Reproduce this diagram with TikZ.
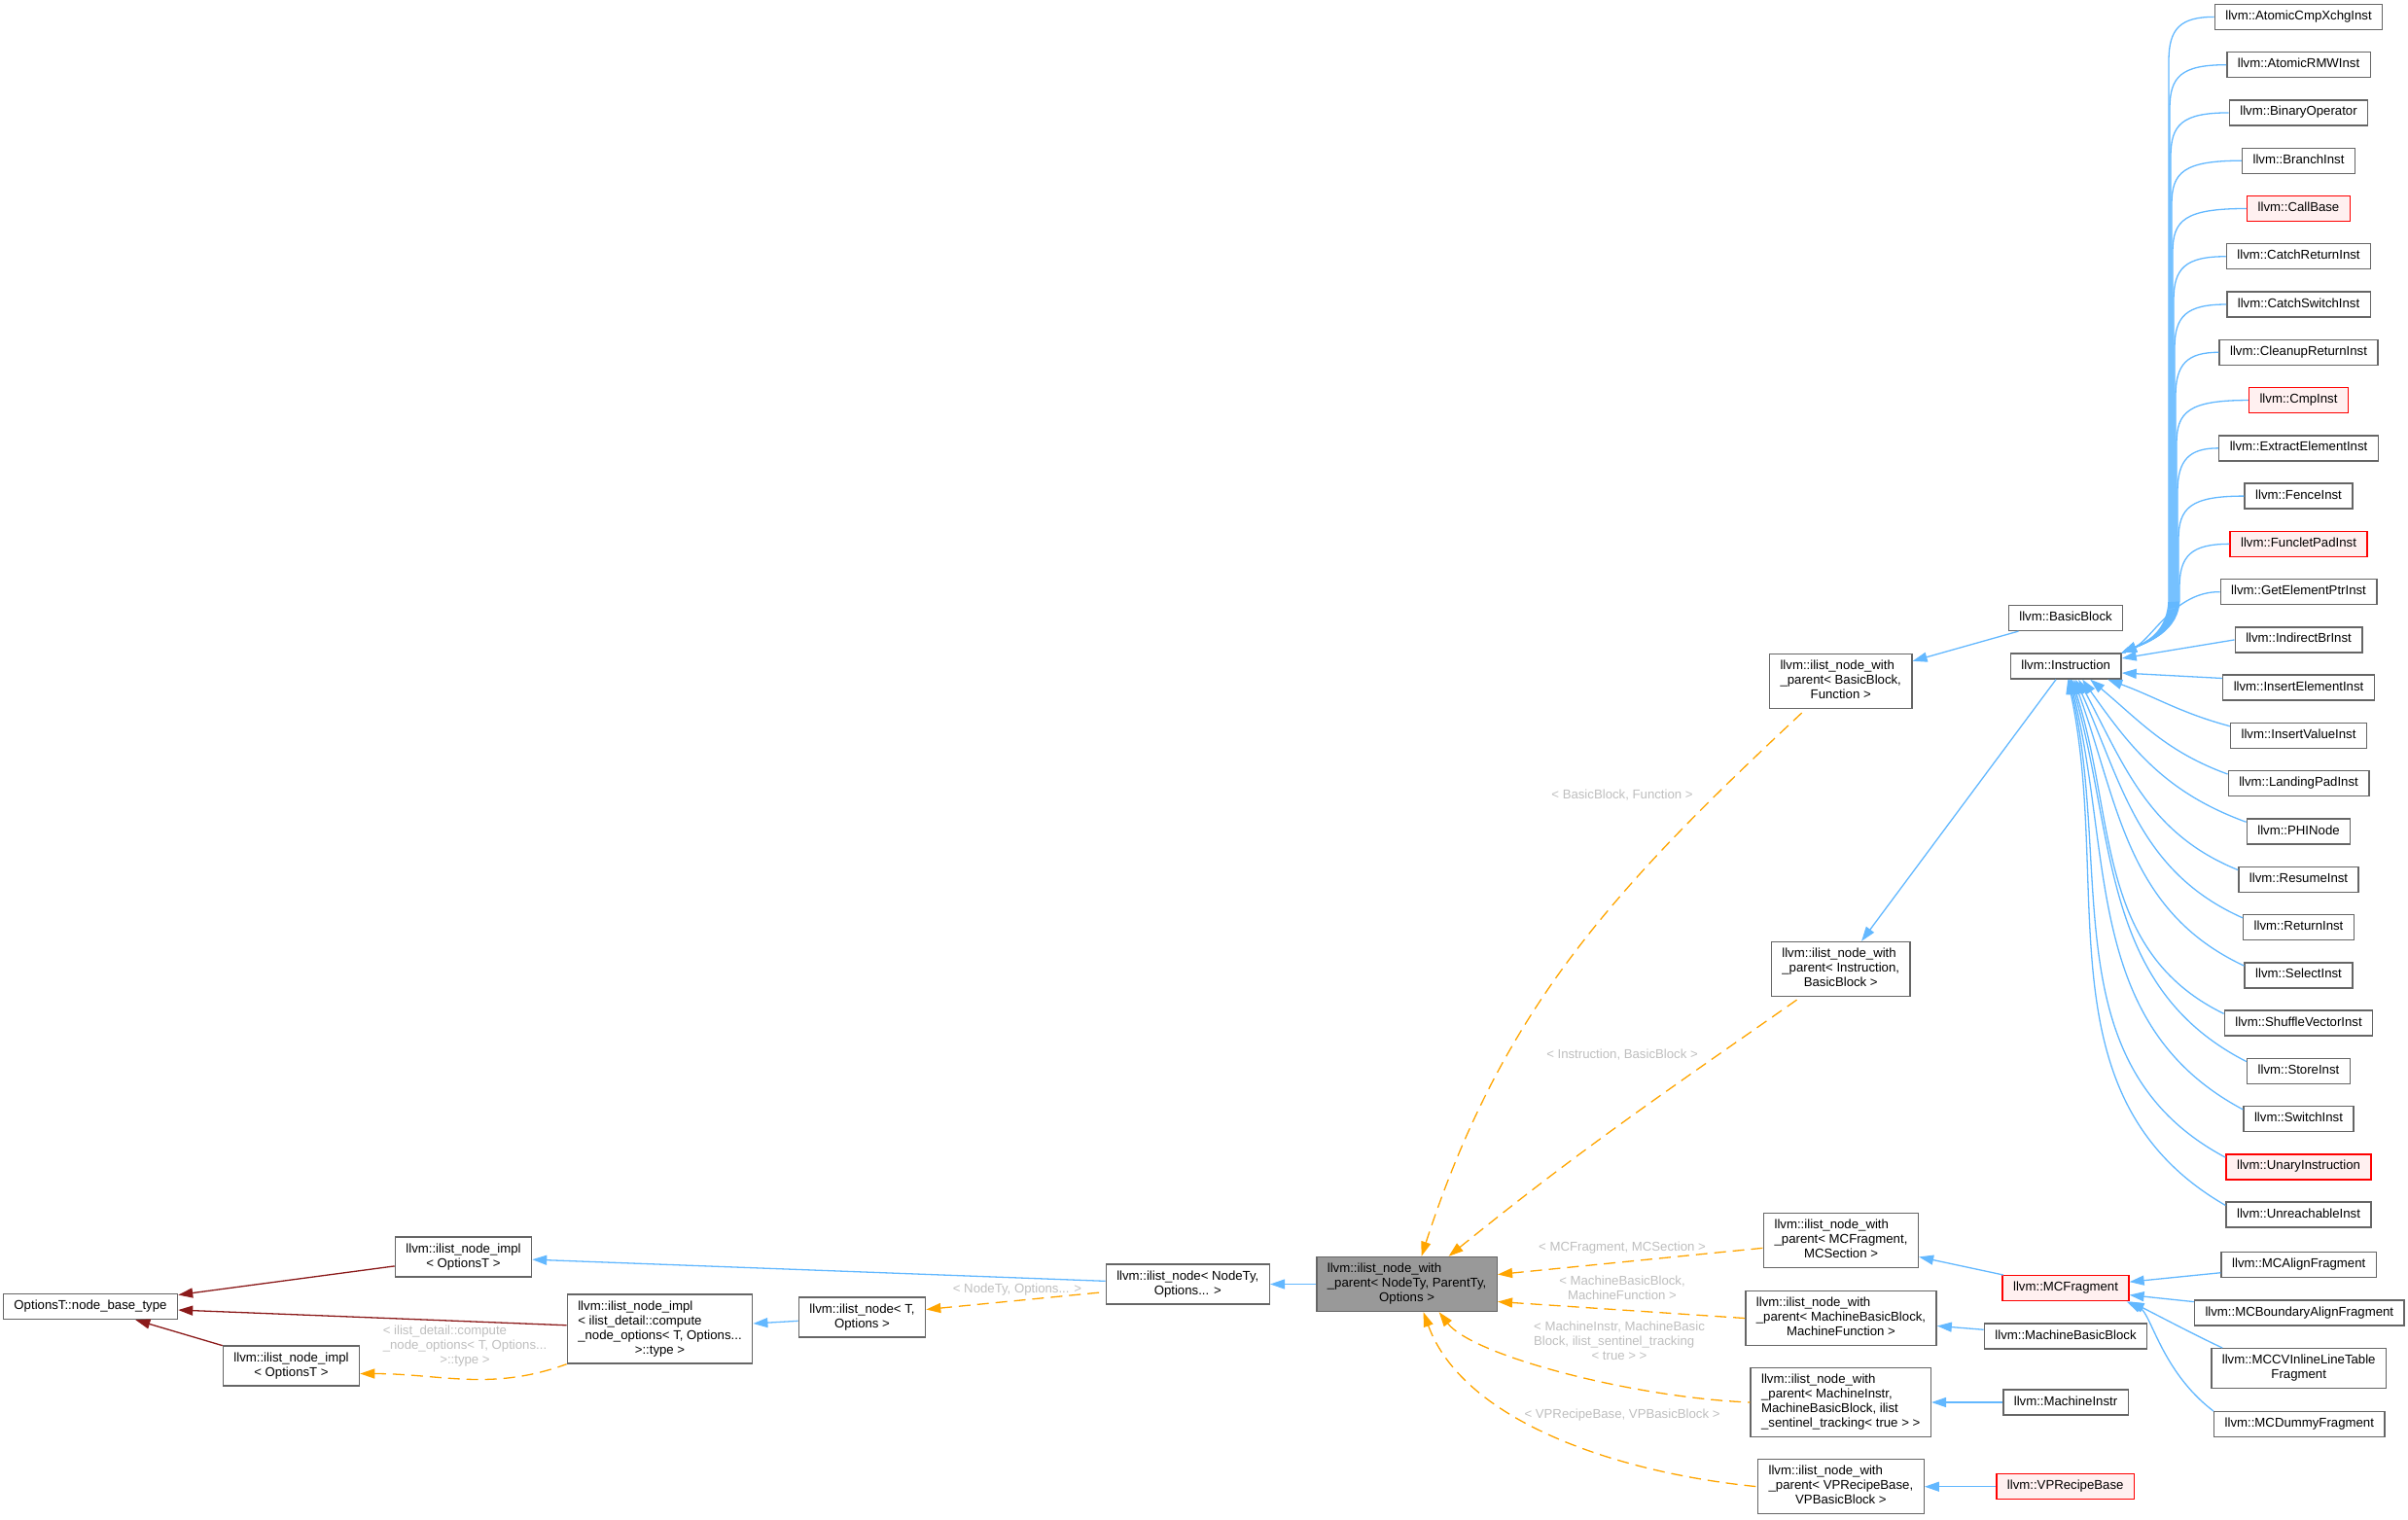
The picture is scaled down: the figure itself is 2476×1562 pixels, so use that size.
\documentclass[tikz,border=0pt]{standalone}
\usepackage{fontspec}
\setmainfont{Liberation Sans}
\usetikzlibrary{arrows.meta}
\definecolor{boxcol}{HTML}{666666}
\definecolor{maincol}{HTML}{999999}
\definecolor{redfill}{HTML}{FFF0F0}
\definecolor{pubcol}{HTML}{63B8FF}
\definecolor{tplcol}{HTML}{FFA500}
\definecolor{privcol}{HTML}{8B1A1A}
\definecolor{labcol}{HTML}{BEBEBE}
\newcommand{\dlab}[2]{\begin{tabular}{@{}l@{}}#1\\\multicolumn{1}{@{}c@{}}{#2}\end{tabular}}
\tikzset{
  cls/.style      = {rectangle, draw=boxcol, line width=0.7pt, fill=white,
                     inner xsep=5.5pt, inner ysep=2.75pt,
                     font=\fontsize{6.6}{7.5}\selectfont},
  cls red/.style  = {cls, draw=red, fill=redfill},
  cls main/.style = {cls, fill=maincol},
  lab/.style      = {inner sep=0pt, text=labcol, font=\fontsize{6.6}{7.5}\selectfont},
  pub/.style      = {{Triangle[length=7.5pt,width=5pt]}-, line width=0.65pt, draw=pubcol},
  priv/.style     = {{Triangle[length=7.5pt,width=5pt]}-, line width=0.65pt, draw=privcol},
  tpl/.style      = {{Triangle[length=7.5pt,width=5pt]}-, line width=0.65pt, draw=tplcol,
                     dash pattern=on 6pt off 3.5pt},
}
\begin{document}
\begin{tikzpicture}[x=0.5pt, y=-0.5pt]
  \useasboundingbox (0,0) rectangle (2476,1562);

  \node[cls] (base) at (93,1343.5) {\strut OptionsT::node\_base\_type};
  \node[cls] (impl1) at (476.5,1292.5) {\dlab{llvm::ilist\_node\_impl}{< OptionsT >}};
  \node[cls] (impl2) at (299.5,1404.5) {\dlab{llvm::ilist\_node\_impl}{< OptionsT >}};
  \node[cls] (compute) at (678.5,1366.5)
       {\dlab{llvm::ilist\_node\_impl\\< ilist\_detail::compute\\\_node\_options< T, Options...}{>::type >}};
  \node[cls] (nodeT) at (886.5,1354.5) {\dlab{llvm::ilist\_node< T,}{Options >}};
  \node[cls] (node1) at (1221.3,1320.5) {\dlab{llvm::ilist\_node< NodeTy,}{Options... >}};
  \node[cls main] (main) at (1446.6,1320.5)
       {\dlab{llvm::ilist\_node\_with\\\_parent< NodeTy, ParentTy,}{Options >}};

  \node[cls] (bbf) at (1892.7,700.6) {\dlab{llvm::ilist\_node\_with\\\_parent< BasicBlock,}{Function >}};
  \node[cls] (ib) at (1892.7,996.5) {\dlab{llvm::ilist\_node\_with\\\_parent< Instruction,}{BasicBlock >}};
  \node[cls] (mcs) at (1893,1275.3) {\dlab{llvm::ilist\_node\_with\\\_parent< MCFragment,}{MCSection >}};
  \node[cls] (mbbmf) at (1893,1355.5)
       {\dlab{llvm::ilist\_node\_with\\\_parent< MachineBasicBlock,}{MachineFunction >}};
  \node[cls] (mi) at (1892.7,1442)
       {\dlab{llvm::ilist\_node\_with\\\_parent< MachineInstr,\\MachineBasicBlock, ilist}{\_sentinel\_tracking< true > >}};
  \node[cls] (vp) at (1892.9,1528.7) {\dlab{llvm::ilist\_node\_with\\\_parent< VPRecipeBase,}{VPBasicBlock >}};

  \node[cls] (bb) at (2124,635.4) {\strut llvm::BasicBlock};
  \node[cls] (inst) at (2124.2,685) {\strut llvm::Instruction};
  \node[cls red] (mcf) at (2124,1324.7) {\strut llvm::MCFragment};
  \node[cls] (mbb) at (2124,1374) {\strut llvm::MachineBasicBlock};
  \node[cls] (minstr) at (2124,1442) {\strut llvm::MachineInstr};
  \node[cls red] (vprb) at (2123.7,1528.7) {\strut llvm::VPRecipeBase};

  \node[cls] (mcalign) at (2363.7,1300.7) {\strut llvm::MCAlignFragment};
  \node[cls] (mcbound) at (2364.3,1350) {\strut llvm::MCBoundaryAlignFragment};
  \node[cls] (mccv) at (2363.7,1407.2) {\dlab{llvm::MCCVInlineLineTable}{Fragment}};
  \node[cls] (mcdummy) at (2364.3,1464.7) {\strut llvm::MCDummyFragment};

  \foreach \nm/\bd/\fl [count=\i] in {AtomicCmpXchgInst/boxcol/white, AtomicRMWInst/boxcol/white,
      BinaryOperator/boxcol/white, BranchInst/boxcol/white, CallBase/red/redfill,
      CatchReturnInst/boxcol/white, CatchSwitchInst/boxcol/white, CleanupReturnInst/boxcol/white,
      CmpInst/red/redfill, ExtractElementInst/boxcol/white, FenceInst/boxcol/white,
      FuncletPadInst/red/redfill, GetElementPtrInst/boxcol/white, IndirectBrInst/boxcol/white,
      InsertElementInst/boxcol/white, InsertValueInst/boxcol/white, LandingPadInst/boxcol/white,
      PHINode/boxcol/white, ResumeInst/boxcol/white, ReturnInst/boxcol/white,
      SelectInst/boxcol/white, ShuffleVectorInst/boxcol/white, StoreInst/boxcol/white,
      SwitchInst/boxcol/white, UnaryInstruction/red/redfill, UnreachableInst/boxcol/white}
    \node[cls, draw=\bd, fill=\fl] (c\i) at (2363.5,{17.4+(\i-1)*49.27}) {\strut llvm::\nm};

  \draw[priv] (base) -- (impl1);
  \draw[priv] (base) -- (compute);
  \draw[priv] (base) -- (impl2);

  \foreach \a/\b in {impl1/node1, compute/nodeT, node1/main, bbf/bb, ib/inst, mcs/mcf,
                     mbbmf/mbb, mi/minstr, vp/vprb, mcf/mcalign, mcf/mcbound}
    \draw[pub] (\a) -- (\b);
  \draw[pub] (mcf.south east) .. controls (2210,1348) and (2255,1372) .. ([xshift=6pt]mccv.north west);
  \draw[pub] ([xshift=-1.5pt]mcf.south east) .. controls (2212,1350) and (2222,1410) .. (mcdummy.north west);

  \foreach \i in {1,...,12} {
    \pgfmathsetmacro{\tx}{2229+\i}
    \pgfmathsetmacro{\yy}{17.4+(\i-1)*49.27}
    \draw[pub] (inst.north east) .. controls (2206,661) and (\tx,650) .. (\tx,615)
      -- (\tx,\yy+45) .. controls (\tx,\yy+12) and (\tx+12,\yy) .. (c\i.west);
  }
  \draw[pub] (inst.north east) .. controls (2212,658) and (2236,608) .. (c13.west);
  \draw[pub] ([yshift=4pt]inst.east) -- (c14.west);
  \draw[pub] ([yshift=-3.5pt]inst.east) -- ([yshift=-2pt]c15.north west);
  \foreach \i/\sx/\o/\n in {16/21.5/-20/165, 17/12.5/-40/160, 18/8.5/-55/160, 19/6.5/-62/158,
                            20/5/-66/156, 21/4/-70/155, 22/3/-72/154, 23/2.5/-74/153,
                            24/2/-76/152, 25/1.5/-77/152, 26/1/-78/150}
    \draw[pub] ([xshift=\sx pt]inst.south) to[out=\o, in=\n] ([yshift=-2pt]c\i.north west);

  \draw[tpl] ([yshift=-4pt]impl2.east) to[out=0, in=200] (compute.south west);
  \draw[tpl] ([yshift=4pt]nodeT.east) -- ([yshift=-4pt]node1.west);
  \draw[tpl] ([xshift=7.5pt]main.north) to[out=72, in=223] ([xshift=-18pt]bbf.south);
  \draw[tpl] ([xshift=21.5pt]main.north) to[out=39, in=215] ([xshift=-20.5pt]ib.south);
  \draw[tpl] ([yshift=5pt]main.east) -- ([yshift=-4pt]mcs.west);
  \draw[tpl] ([yshift=-9pt]main.east) -- (mbbmf.west);
  \draw[tpl] ([xshift=16.5pt]main.south) .. controls +(35,45) and +(-120,-5) .. (mi.west);
  \draw[tpl] ([xshift=8.5pt]main.south) .. controls +(40,110) and +(-150,-15) .. (vp.west);

  \node[lab] (t0) at (478,1384) {\dlab{< ilist\_detail::compute\\\_node\_options< T, Options...}{>::type >}};
  \node[lab] (t1) at (1046,1326) {\strut < NodeTy, Options... >};
  \node[lab] (t2) at (1668,818.5) {\strut < BasicBlock, Function >};
  \node[lab] (t3) at (1668,1085.5) {\strut < Instruction, BasicBlock >};
  \node[lab] (t4) at (1668,1283) {\strut < MCFragment, MCSection >};
  \node[lab] (t5) at (1668,1326) {\dlab{< MachineBasicBlock,}{MachineFunction >}};
  \node[lab] (t6) at (1665,1380) {\dlab{< MachineInstr, MachineBasic\\Block, ilist\_sentinel\_tracking}{< true > >}};
  \node[lab] (t7) at (1668,1455) {\strut < VPRecipeBase, VPBasicBlock >};
\end{tikzpicture}
\end{document}
